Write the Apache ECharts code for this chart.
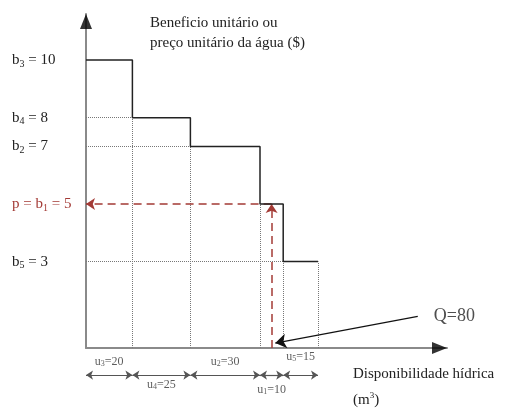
<!DOCTYPE html>
<html>
<head>
<meta charset="utf-8">
<script src="https://cdn.jsdelivr.net/npm/echarts@6/dist/echarts.min.js"></script>
<style>
  html, body { margin: 0; padding: 0; background: #fff; }
  #main { width: 514px; height: 408px; }
</style>
</head>
<body>
<div id="main"></div>
<script>
// blocos de demanda, em ordem decrescente de benefício unitário
var blockIdx = ['3', '4', '2', '1', '5'];
var benefits = [10, 8, 7, 5, 3];
var volumes = [20, 25, 30, 10, 15];
var Q = 80;        // disponibilidade hídrica
var price = 5;     // p = b1

var xMax = 155.6, yMax = 11.6;
var serif = '"Liberation Serif", "Times New Roman", serif';
var red = '#a33a35';

// limites de cada bloco no eixo x
var starts = [], ends = [];
var acc = 0;
volumes.forEach(function (u) { starts.push(acc); acc += u; ends.push(acc); });

// curva em degraus
var stepData = [];
benefits.forEach(function (b, i) {
  stepData.push([starts[i], b]);
  stepData.push([ends[i], b]);
});

// linhas pontilhadas de referência
var dotted = [];
benefits.forEach(function (b, i) {
  if (i > 0 && b !== price) dotted.push({ coords: [[0, b], [starts[i], b]] });
  var h = i < benefits.length - 1 ? benefits[i + 1] : b;
  dotted.push({ coords: [[ends[i], 0], [ends[i], h]] });
});

// rótulos u_i abaixo do eixo
var uOffsets = [14, 37, 14, 42, 9];
var uLabels = volumes.map(function (u, i) {
  return {
    value: [(starts[i] + ends[i]) / 2, 0],
    label: {
      offset: [0, uOffsets[i]],
      fontSize: i === 4 ? 11 : 12,
      formatter: '{t|u}{s|' + blockIdx[i] + '}{t|=' + u + '}'
    }
  };
});

var arrowRowY = -0.94;
var spans = volumes.map(function (u, i) {
  return { coords: [[starts[i], arrowRowY], [ends[i], arrowRowY]] };
});

var qFrom = [143, 1.1], qTo = [Q + 1.6, 0.17];

var chart = echarts.init(document.getElementById('main'));

var option = {
  backgroundColor: '#fff',
  animation: false,
  title: [{
    text: 'Beneficio unitário ou\npreço unitário da água ($)',
    left: 150, top: 13, padding: 0,
    textStyle: { fontFamily: serif, fontSize: 15, fontWeight: 'normal', color: '#222', lineHeight: 20 }
  }, {
    text: '{a|Disponibilidade hídrica}\n{a|(m}{sup|3}{a|)}',
    left: 353, top: 361, padding: 0,
    textStyle: {
      fontWeight: 'normal',
      rich: {
        a: { fontFamily: serif, fontSize: 15, fontWeight: 'normal', color: '#222', lineHeight: 26 },
        sup: { fontFamily: serif, fontSize: 9, fontWeight: 'normal', color: '#222', lineHeight: 26, padding: [0, 0, 8, 0] }
      }
    }
  }],
  grid: { left: 86, right: 67, top: 14, bottom: 60, outerBoundsMode: 'none' },
  xAxis: {
    type: 'value', min: 0, max: xMax,
    axisLine: { lineStyle: { color: '#8a8a8a', width: 2 } },
    axisTick: { show: false },
    axisLabel: { show: false },
    splitLine: { show: false }
  },
  yAxis: {
    type: 'value', min: 0, max: yMax,
    axisLine: { show: true, lineStyle: { color: '#8a8a8a', width: 2 } },
    axisTick: { show: false },
    splitLine: { show: false },
    axisLabel: {
      customValues: benefits,
      align: 'left',
      margin: 74,
      formatter: function (v) {
        var i = benefits.indexOf(v);
        if (v === price) return '{r|p = b}{rs|' + blockIdx[i] + '}{r| = ' + v + '}';
        return '{t|b}{s|' + blockIdx[i] + '}{t| = ' + v + '}';
      },
      rich: {
        t: { fontFamily: serif, fontSize: 15, color: '#222', lineHeight: 18 },
        s: { fontFamily: serif, fontSize: 10, color: '#222', lineHeight: 10, verticalAlign: 'bottom' },
        r: { fontFamily: serif, fontSize: 15, color: red, lineHeight: 18 },
        rs: { fontFamily: serif, fontSize: 10, color: red, lineHeight: 10, verticalAlign: 'bottom' }
      }
    }
  },
  series: [{
    name: 'pontilhado',
    type: 'lines',
    coordinateSystem: 'cartesian2d',
    silent: true,
    symbol: 'none',
    lineStyle: { color: '#777', width: 1, type: 'dotted', opacity: 1 },
    data: dotted
  }, {
    name: 'preço',
    type: 'lines',
    coordinateSystem: 'cartesian2d',
    silent: true,
    symbol: ['none', 'arrow'],
    symbolSize: 9,
    lineStyle: { color: red, width: 1.5, type: [8, 5], opacity: 1 },
    data: [
      { coords: [[Q, 0], [Q, price]] },
      { coords: [[Q, price], [0, price]] }
    ]
  }, {
    name: 'benefício',
    type: 'line',
    data: stepData,
    symbol: 'none',
    lineStyle: { color: '#222', width: 1.5 },
    z: 5
  }, {
    name: 'intervalos',
    type: 'lines',
    coordinateSystem: 'cartesian2d',
    silent: true,
    clip: false,
    symbol: ['arrow', 'arrow'],
    symbolSize: 7,
    lineStyle: { color: '#555', width: 1.2, opacity: 1 },
    data: spans
  }, {
    name: 'u',
    type: 'scatter',
    symbolSize: 0,
    clip: false,
    silent: true,
    label: {
      show: true, position: 'inside',
      rich: {
        t: { fontFamily: serif, fontSize: 12, color: '#333' },
        s: { fontFamily: serif, fontSize: 8, color: '#333', verticalAlign: 'bottom', lineHeight: 8 }
      }
    },
    data: uLabels
  }, {
    name: 'Q',
    type: 'lines',
    coordinateSystem: 'cartesian2d',
    silent: true,
    symbol: ['none', 'arrow'],
    symbolSize: 11,
    lineStyle: { color: '#111', width: 1.2, opacity: 1 },
    data: [{ coords: [qFrom, qTo] }],
    z: 6
  }, {
    name: 'Qtexto',
    type: 'scatter',
    symbolSize: 0,
    silent: true,
    label: {
      show: true, position: 'right', distance: 16,
      fontFamily: serif, fontSize: 18, color: '#222',
      formatter: 'Q=' + Q
    },
    data: [qFrom]
  }, {
    name: 'setas',
    type: 'scatter',
    symbol: 'triangle',
    clip: false,
    silent: true,
    itemStyle: { color: '#000' },
    data: [
      { value: [0, yMax], symbolSize: [12, 15], symbolOffset: [0, 7.5] },
      { value: [xMax, 0], symbolSize: [12, 15], symbolRotate: -90, symbolOffset: [-7.5, 0] }
    ],
    z: 10
  }]
};

chart.setOption(option);
</script>
</body>
</html>
